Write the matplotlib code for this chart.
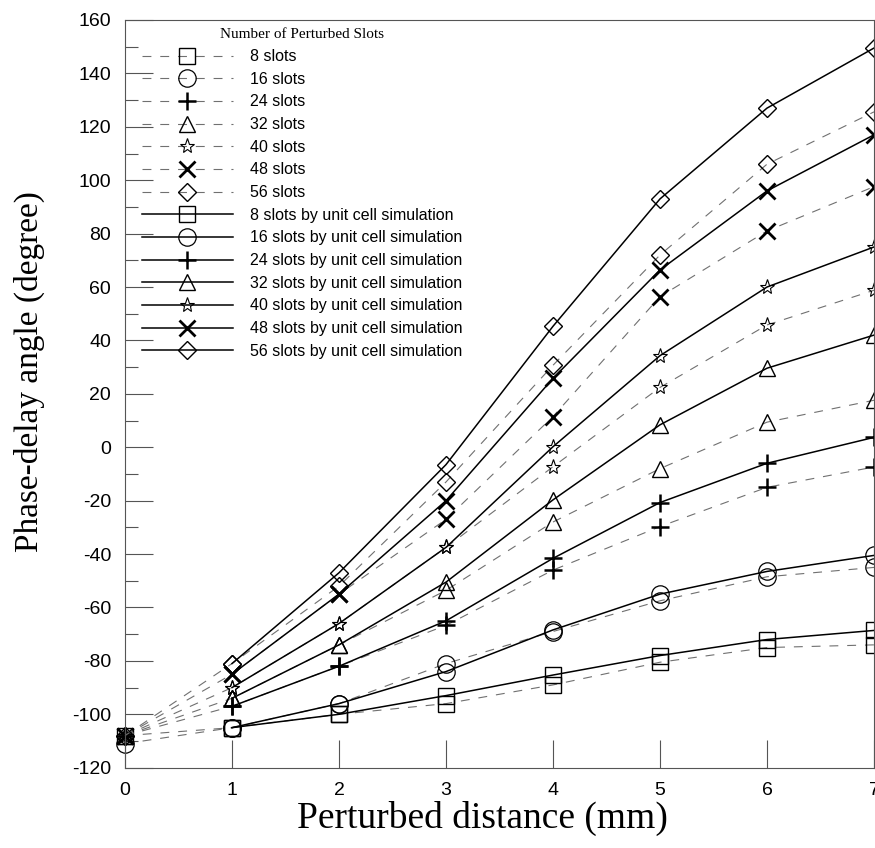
import matplotlib
matplotlib.use('Agg')
import matplotlib.pyplot as plt
from matplotlib.ticker import MultipleLocator

plt.rcParams['axes.unicode_minus'] = False

# perturbed distance (mm)
x_meas = [0, 1, 2, 3, 4, 5, 6, 7]
x_sim = [1, 2, 3, 4, 5, 6, 7]

slot_labels = ['8 slots', '16 slots', '24 slots', '32 slots', '40 slots', '48 slots', '56 slots']

# measured (dashed)
meas_8 = [-108, -105, -100, -96, -89, -80.5, -75, -74]
meas_16 = [-111, -105, -96, -81, -69, -57.5, -48.5, -45]
meas_24 = [-108, -97, -82, -66.7, -46, -29.7, -15, -7.4]
meas_32 = [-108, -94, -74, -53.6, -28, -8, 9.4, 17.6]
meas_40 = [-108, -90, -66, -37.5, -7.3, 22.4, 45.8, 58.8]
meas_48 = [-108, -85, -55, -27, 11.5, 56.4, 81, 97.6]
meas_56 = [-108, -81, -52, -13, 30.7, 72, 106, 125.6]

# unit cell simulation (solid)
sim_8 = [-105, -100, -93, -85.3, -78, -72, -68.6]
sim_16 = [-105, -96, -84, -68.4, -55, -46.5, -40.5]
sim_24 = [-97, -82, -65, -41.6, -20.7, -6, 3.7]
sim_32 = [-94, -74, -50.5, -19.7, 8.4, 29.6, 42]
sim_40 = [-90, -66, -37.5, 0.2, 34.3, 60, 75]
sim_48 = [-85, -55, -20, 25.8, 66.4, 96, 117]
sim_56 = [-81, -47, -6.5, 45.3, 93, 127, 149.5]

meas = [meas_8, meas_16, meas_24, meas_32, meas_40, meas_48, meas_56]
sims = [sim_8, sim_16, sim_24, sim_32, sim_40, sim_48, sim_56]

markers = ['s', 'o', '+', '^', '*', 'x', 'D']
msizes = [12, 12.5, 12.5, 12, 11, 12, 8.7]
mews = [1.0, 0.9, 1.8, 1.0, 0.8, 2.0, 1.0]

sans = 'Liberation Sans'
serif = 'Liberation Serif'

fig = plt.figure(figsize=(8.75, 8.48), dpi=100)
ax = fig.add_axes([125/875, 1-767.7/848, 749/875, 747.7/848])

handles = []
labels = []
for i in range(7):
    h, = ax.plot(x_meas, meas[i], linestyle=(0, (8, 8)), color='#707070', lw=0.8,
                 marker=markers[i], ms=msizes[i], mfc='none', mec='black', mew=mews[i],
                 clip_on=False)
    handles.append(h)
    labels.append(slot_labels[i])
for i in range(7):
    h, = ax.plot(x_sim, sims[i], linestyle='-', color='black', lw=1.1,
                 marker=markers[i], ms=msizes[i], mfc='none', mec='black', mew=mews[i],
                 clip_on=False)
    handles.append(h)
    labels.append(slot_labels[i] + ' by unit cell simulation')

ax.set_xlim(0, 7)
ax.set_ylim(-120, 160)
ax.xaxis.set_major_locator(MultipleLocator(1))
ax.yaxis.set_major_locator(MultipleLocator(20))
ax.yaxis.set_minor_locator(MultipleLocator(10))
ax.tick_params(axis='both', which='major', direction='in', length=20, width=0.8,
               pad=10, labelsize=14, color='#555555')
ax.tick_params(axis='y', which='minor', direction='in', length=9, width=0.8, color='#555555')
for lab in ax.get_xticklabels() + ax.get_yticklabels():
    lab.set_fontfamily(sans)
for sp in ax.spines.values():
    sp.set_color('#555555')
    sp.set_linewidth(0.8)

ax.set_xlabel('Perturbed distance (mm)', fontfamily=serif, fontsize=27, labelpad=0)
ax.xaxis.set_label_coords(0.477, -0.045, transform=ax.transAxes)
ax.xaxis.label.set_va('top')
ax.set_ylabel('Phase-delay angle (degree)', fontfamily=serif, fontsize=24)
ax.yaxis.set_label_coords(-0.128, 0.53, transform=ax.transAxes)
ax.yaxis.label.set_va('center')

leg = ax.legend(handles, labels, loc='upper left', bbox_to_anchor=(0.018, 0.993),
                frameon=False, numpoints=1, handlelength=5.7, handletextpad=1.1,
                labelspacing=0.48, borderaxespad=0, borderpad=0.2,
                prop={'family': sans, 'size': 11.5},
                title='Number of Perturbed Slots',
                title_fontproperties={'family': serif, 'size': 11})

fig.savefig('out.png', dpi=100)
